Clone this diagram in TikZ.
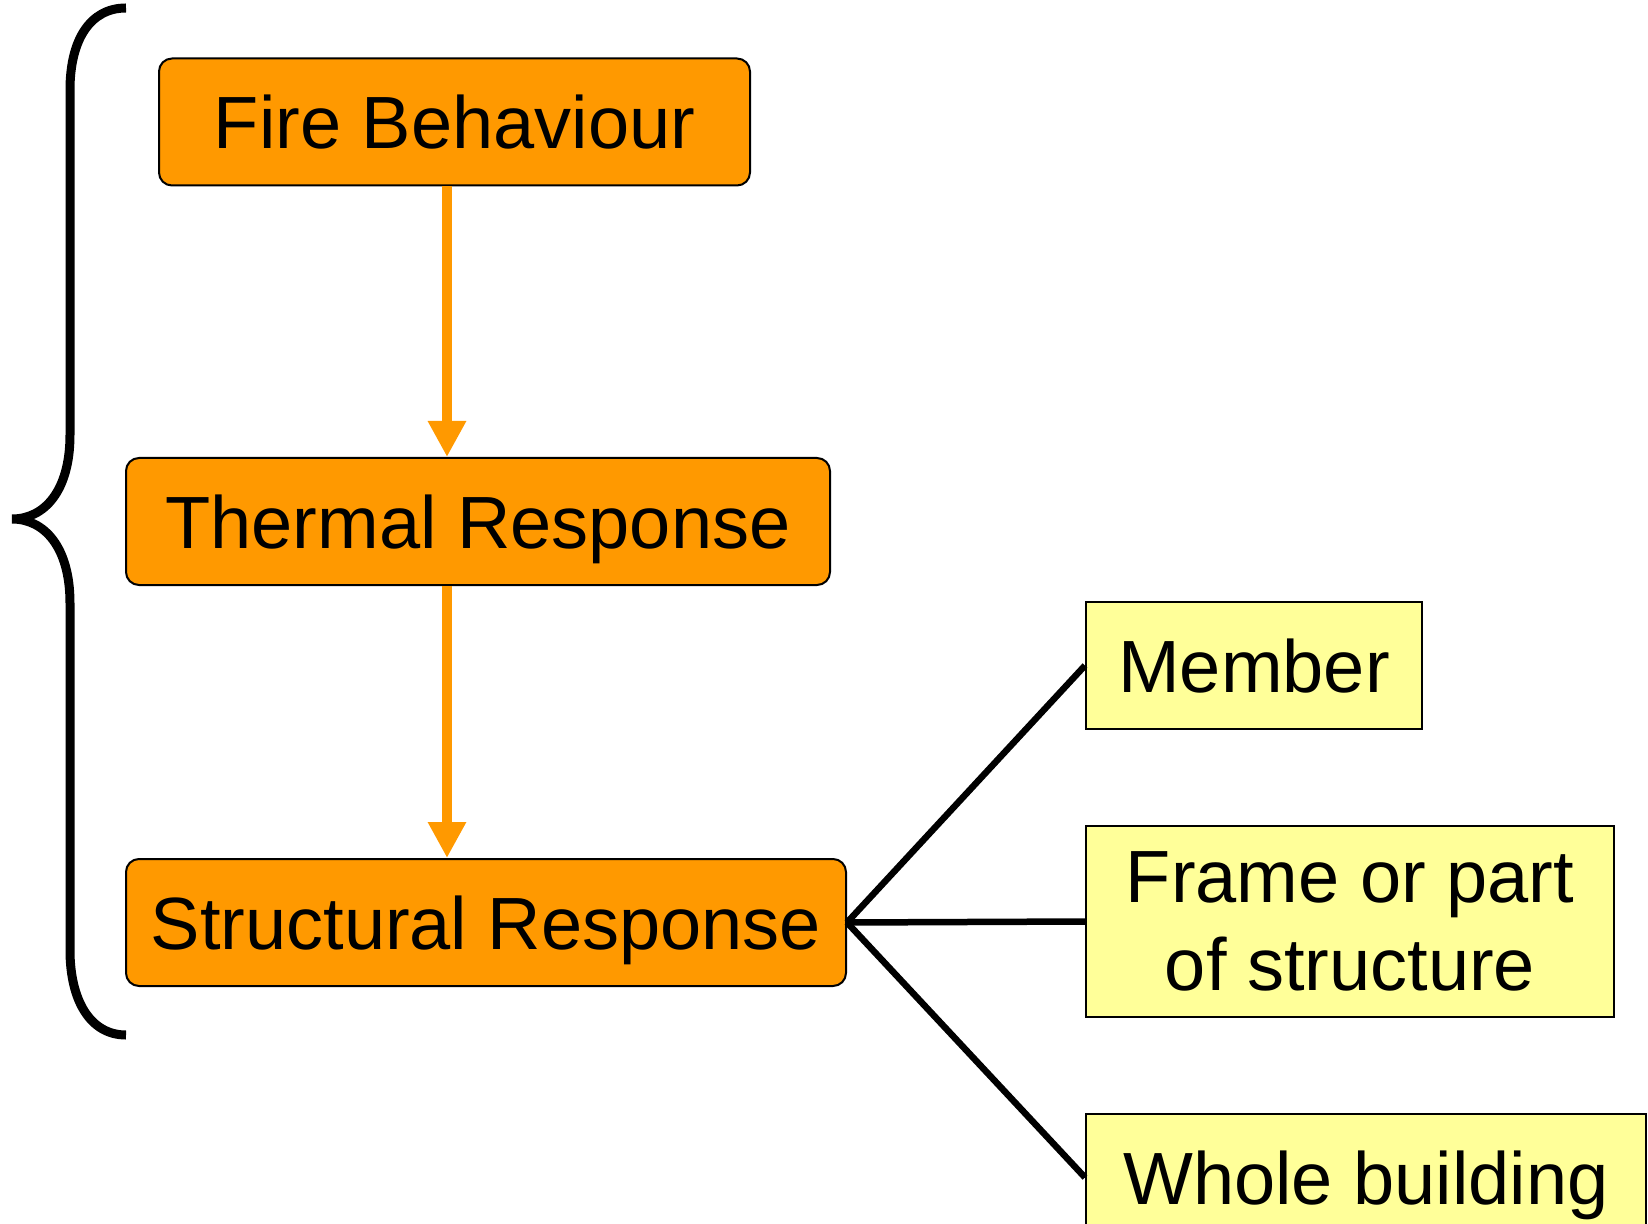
\documentclass[tikz,border=0pt]{standalone}
\usepackage{fontspec}
\setmainfont{Liberation Sans}
\usetikzlibrary{arrows.meta,calc}
\definecolor{fireorange}{HTML}{FF9900}
\definecolor{paleyellow}{HTML}{FFFF99}

\begin{document}
\begin{tikzpicture}[x=0.5pt,y=-0.5pt,
		stage/.style={draw,line width=1pt,fill=fireorange,rounded corners=6.5pt,inner sep=0pt,minimum height=63.5pt,text height=27pt,text depth=0pt,font=\fontsize{37}{44}\selectfont},
		scale box/.style={draw,line width=1pt,fill=paleyellow,inner sep=0pt,align=center,font=\fontsize{37}{44}\selectfont},
		one line/.style={text height=27pt,text depth=0pt},
		flow/.style={fireorange,line width=5.25pt,-{Triangle[length=18pt,width=18pt]}},
		link/.style={line width=3.25pt}]
		\useasboundingbox (0,0) rectangle (1648,1224);
		\node[stage,minimum width=295.5pt] (fire) at (454.5,122) {Fire Behaviour};
		\node[stage,minimum width=352pt] (therm) at (478,521.5) {Thermal Response};
		\node[stage,minimum width=360pt] (struct) at (486,922.5) {Structural Response};
		\node[scale box,one line,minimum width=168pt,minimum height=63.5pt] (member) at (1254,665.5) {Member};
		\node[scale box,minimum width=264pt,minimum height=95.5pt] (frame) at (1350,921.5) {Frame or part\\of structure};
		\node[scale box,one line,minimum width=280pt,minimum height=63.5pt] (whole) at (1366,1177.5) {Whole building};
		\coordinate (axis) at (447,0);
		\draw[flow] (fire.south -| axis) -- (therm.north -| axis);
		\draw[flow] (therm.south -| axis) -- (struct.north -| axis);
		\foreach \n in {member,frame,whole}{
			\draw[link] (struct.east) -- (\n.west);
		}
		\draw[line width=4.5pt] 
			(126,8) .. controls (90,8) and (70,40) .. (70,90) -- (70,435)
			.. controls (70,490) and (45,519) .. (12,519)
			.. controls (45,519) and (70,548) .. (70,603) -- (70,950)
			.. controls (70,1000) and (90,1035) .. (126,1035);
	\end{tikzpicture}
\end{document}
